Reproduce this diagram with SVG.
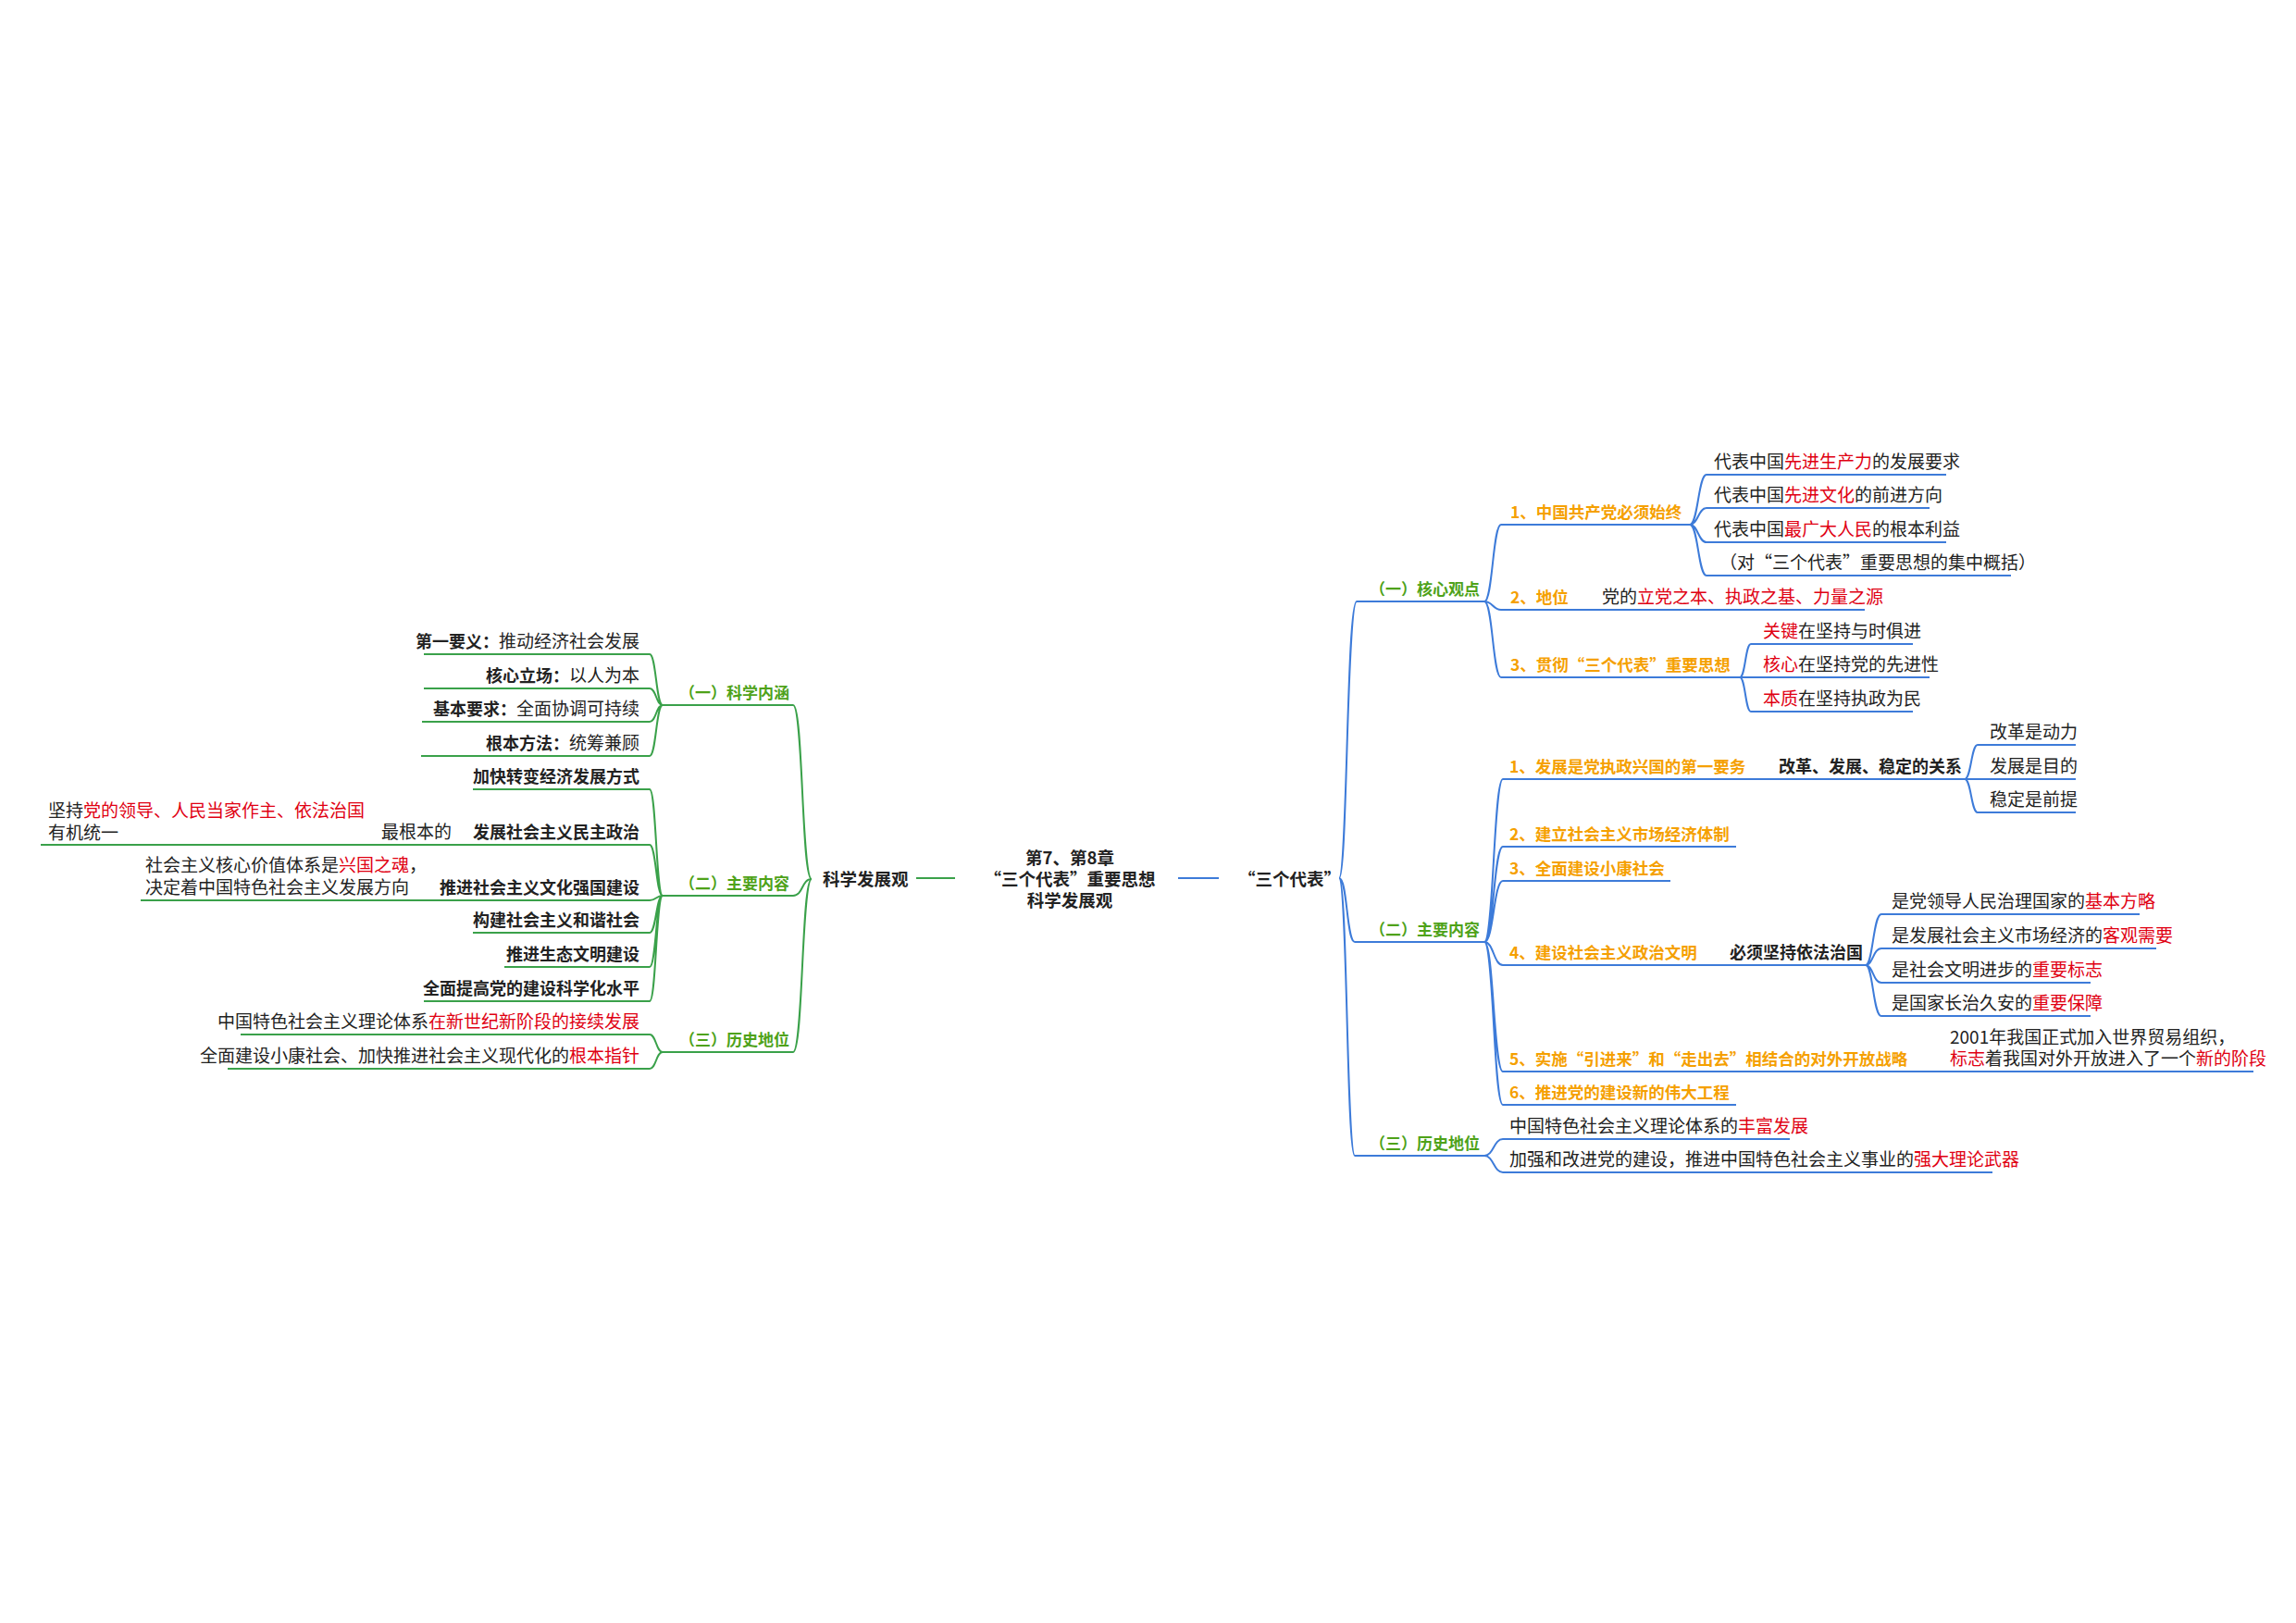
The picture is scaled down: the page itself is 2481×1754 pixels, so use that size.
<svg xmlns="http://www.w3.org/2000/svg" width="2481" height="1754" viewBox="0 0 2481 1754">
<style>
text{font-family:"Noto Sans CJK SC","Noto Sans",sans-serif;font-size:19px;fill:#222}
.b{font-weight:bold;font-size:18px}
.o{font-weight:bold;font-size:17.5px;fill:#f5a000}
.g{font-weight:bold;font-size:17px;fill:#4ea219}
.r{fill:#e00012}
.root{font-weight:bold;font-size:18.5px;fill:#222}
.e{text-anchor:end}
.lg{fill:none;stroke:#3aa14a;stroke-width:2}
.lb{fill:none;stroke:#3d7bd9;stroke-width:2}
</style>
<rect width="2481" height="1754" fill="#fff"/>
<g id="connectors">
<path class="lg" d="M990,949H1032"/>
<path class="lb" d="M1273,949H1317"/>
<g class="lb">
<path d="M1447,949C1456,949 1455,650 1466,650M1447,949C1456,949 1455,1018 1464,1018M1447,949C1456,949 1455,1249 1464,1249"/>
<path d="M1466,650H1604M1464,1018H1604M1464,1249H1604"/>
<path d="M1604,650C1613,650 1613,567 1622,567M1604,650C1613,650 1613,659 1622,659M1604,650C1613,650 1613,732 1622,732"/>
<path d="M1622,567H1826M1622,659H2015M1622,732H1880"/>
<path d="M1826,567C1835,567 1835,513 1844,513M1826,567C1835,567 1835,549 1844,549M1826,567C1835,567 1835,586 1844,586M1826,567C1835,567 1835,622 1844,622"/>
<path d="M1844,513H2103M1844,549H2085M1844,586H2103M1844,622H2173"/>
<path d="M1880,732C1886,732 1886,696 1892,696M1880,732H1892M1880,732C1886,732 1886,769 1892,769"/>
<path d="M1892,696H2067M1892,732H2085M1892,769H2067"/>
<path d="M1604,1018C1614,1018 1614,842 1624,842M1604,1018C1614,1018 1614,915 1624,915M1604,1018C1614,1018 1614,952 1624,952M1604,1018C1614,1018 1614,1043 1624,1043M1604,1018C1614,1018 1614,1158 1624,1158M1604,1018C1614,1018 1614,1194 1624,1194"/>
<path d="M1624,842H2123M1624,915H1876M1624,952H1805M1624,1043H2016M1624,1158H2435M1624,1194H1876"/>
<path d="M2123,842C2130,842 2130,805 2137,805M2123,842H2137M2123,842C2130,842 2130,878 2137,878"/>
<path d="M2137,805H2243M2137,842H2243M2137,878H2243"/>
<path d="M2016,1043C2024,1043 2024,988 2033,988M2016,1043C2024,1043 2024,1025 2033,1025M2016,1043C2024,1043 2024,1062 2033,1062M2016,1043C2024,1043 2024,1098 2033,1098"/>
<path d="M2033,988H2312M2033,1025H2330M2033,1062H2259M2033,1098H2259"/>
<path d="M1604,1249C1614,1249 1614,1231 1624,1231M1604,1249C1614,1249 1614,1267 1624,1267"/>
<path d="M1624,1231H1934M1624,1267H2153"/>
</g>
<g class="lg">
<path d="M877,950C866,950 868,762 857,762M877,950C866,950 868,968 857,968M877,950C866,950 868,1137 857,1137"/>
<path d="M716,762H857M716,968H857M716,1137H857"/>
<path d="M716,762C709,762 709,707 702,707M716,762C709,762 709,744 702,744M716,762C709,762 709,780 702,780M716,762C709,762 709,817 702,817"/>
<path d="M458,707H702M458,744H702M456,780H702M455,817H702"/>
<path d="M716,968C709,968 709,853 702,853M716,968C709,968 709,913 702,913M716,968C709,968 709,973 702,973M716,968C709,968 709,1008 702,1008M716,968C709,968 709,1045 702,1045M716,968C709,968 709,1082 702,1082"/>
<path d="M511,853H702M44,913H702M152,973H702M511,1008H702M545,1045H702M458,1082H702"/>
<path d="M716,1137C709,1137 709,1118 702,1118M716,1137C709,1137 709,1155 702,1155"/>
<path d="M260,1118H702M246,1155H702"/>
</g>
</g>
<g id="center"><text class="root" x="1156" y="934" text-anchor="middle">第7、第8章</text><text class="root" x="1156" y="957" text-anchor="middle">“三个代表”重要思想</text><text class="root" x="1156" y="980" text-anchor="middle">科学发展观</text></g>
<g id="kxfzg"><text class="root" x="889" y="957">科学发展观</text></g>
<g id="sgdb"><text class="root" x="1338" y="957">“三个代表”</text></g>
<g id="r1"><text class="g" x="1480" y="643">（一）核心观点</text></g>
<g id="r1a"><text class="o" x="1632" y="560">1、中国共产党必须始终</text></g>
<g id="r1a1"><text x="1852" y="506">代表中国<tspan class="r">先进生产力</tspan>的发展要求</text></g>
<g id="r1a2"><text x="1852" y="542">代表中国<tspan class="r">先进文化</tspan>的前进方向</text></g>
<g id="r1a3"><text x="1852" y="579">代表中国<tspan class="r">最广大人民</tspan>的根本利益</text></g>
<g id="r1a4"><text x="1858" y="615">（对“三个代表”重要思想的集中概括）</text></g>
<g id="r1b"><text class="o" x="1632" y="652">2、地位</text><text x="1731" y="652">党的<tspan class="r">立党之本、执政之基、力量之源</tspan></text></g>
<g id="r1c"><text class="o" x="1632" y="725">3、贯彻“三个代表”重要思想</text></g>
<g id="r1c1"><text x="1905" y="689"><tspan class="r">关键</tspan>在坚持与时俱进</text></g>
<g id="r1c2"><text x="1905" y="725"><tspan class="r">核心</tspan>在坚持党的先进性</text></g>
<g id="r1c3"><text x="1905" y="762"><tspan class="r">本质</tspan>在坚持执政为民</text></g>
<g id="r2"><text class="g" x="1480" y="1011">（二）主要内容</text></g>
<g id="r2a"><text class="o" x="1631" y="835">1、发展是党执政兴国的第一要务</text><text class="b" x="1922" y="835">改革、发展、稳定的关系</text></g>
<g id="r2a1"><text x="2150" y="798">改革是动力</text></g>
<g id="r2a2"><text x="2150" y="835">发展是目的</text></g>
<g id="r2a3"><text x="2150" y="871">稳定是前提</text></g>
<g id="r2b"><text class="o" x="1631" y="908">2、建立社会主义市场经济体制</text></g>
<g id="r2c"><text class="o" x="1631" y="945">3、全面建设小康社会</text></g>
<g id="r2d"><text class="o" x="1631" y="1036">4、建设社会主义政治文明</text><text class="b" x="1869" y="1036">必须坚持依法治国</text></g>
<g id="r2d1"><text x="2044" y="981">是党领导人民治理国家的<tspan class="r">基本方略</tspan></text></g>
<g id="r2d2"><text x="2044" y="1018">是发展社会主义市场经济的<tspan class="r">客观需要</tspan></text></g>
<g id="r2d3"><text x="2044" y="1055">是社会文明进步的<tspan class="r">重要标志</tspan></text></g>
<g id="r2d4"><text x="2044" y="1091">是国家长治久安的<tspan class="r">重要保障</tspan></text></g>
<g id="r2e"><text class="o" x="1631" y="1151">5、实施“引进来”和“走出去”相结合的对外开放战略</text><text x="2107" y="1128">2001年我国正式加入世界贸易组织，</text><text x="2107" y="1151"><tspan class="r">标志</tspan>着我国对外开放进入了一个<tspan class="r">新的阶段</tspan></text></g>
<g id="r2f"><text class="o" x="1631" y="1187">6、推进党的建设新的伟大工程</text></g>
<g id="r3"><text class="g" x="1480" y="1242">（三）历史地位</text></g>
<g id="r3a"><text x="1631" y="1224">中国特色社会主义理论体系的<tspan class="r">丰富发展</tspan></text></g>
<g id="r3b"><text x="1631" y="1260">加强和改进党的建设，推进中国特色社会主义事业的<tspan class="r">强大理论武器</tspan></text></g>
<g id="l1"><text class="g" x="734" y="755">（一）科学内涵</text></g>
<g id="l1a"><text class="e" x="691" y="700"><tspan class="b">第一要义：</tspan>推动经济社会发展</text></g>
<g id="l1b"><text class="e" x="691" y="737"><tspan class="b">核心立场：</tspan>以人为本</text></g>
<g id="l1c"><text class="e" x="691" y="773"><tspan class="b">基本要求：</tspan>全面协调可持续</text></g>
<g id="l1d"><text class="e" x="691" y="810"><tspan class="b">根本方法：</tspan>统筹兼顾</text></g>
<g id="l2"><text class="g" x="734" y="961">（二）主要内容</text></g>
<g id="l2a"><text class="b e" x="691" y="846">加快转变经济发展方式</text></g>
<g id="l2b"><text class="b e" x="691" y="906">发展社会主义民主政治</text><text x="412" y="906">最根本的</text><text x="52" y="883">坚持<tspan class="r">党的领导、人民当家作主、依法治国</tspan></text><text x="52" y="907">有机统一</text></g>
<g id="l2c"><text class="b e" x="691" y="966">推进社会主义文化强国建设</text><text x="157" y="942">社会主义核心价值体系是<tspan class="r">兴国之魂</tspan>，</text><text x="157" y="966">决定着中国特色社会主义发展方向</text></g>
<g id="l2d"><text class="b e" x="691" y="1001">构建社会主义和谐社会</text></g>
<g id="l2e"><text class="b e" x="691" y="1038">推进生态文明建设</text></g>
<g id="l2f"><text class="b e" x="691" y="1075">全面提高党的建设科学化水平</text></g>
<g id="l3"><text class="g" x="734" y="1130">（三）历史地位</text></g>
<g id="l3a"><text class="e" x="691" y="1111">中国特色社会主义理论体系<tspan class="r">在新世纪新阶段的接续发展</tspan></text></g>
<g id="l3b"><text class="e" x="691" y="1148">全面建设小康社会、加快推进社会主义现代化的<tspan class="r">根本指针</tspan></text></g>
</svg>
